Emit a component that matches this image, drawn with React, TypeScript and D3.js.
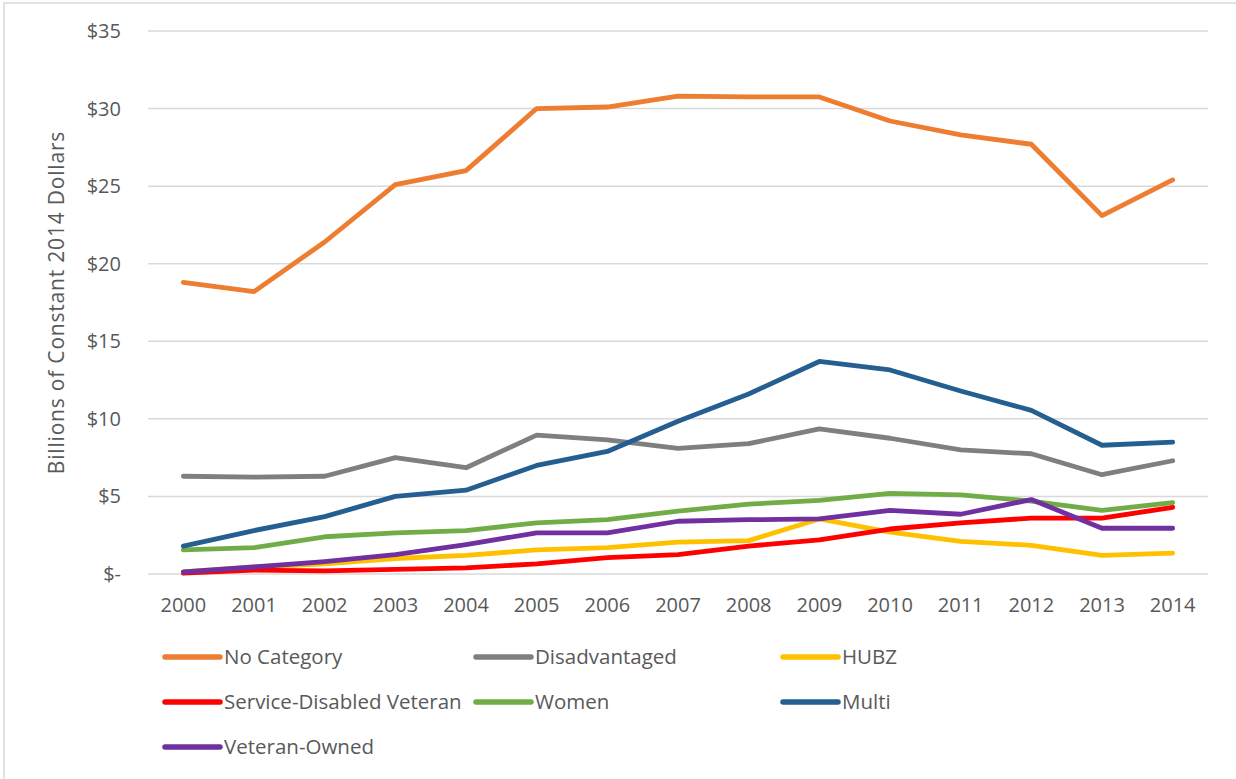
import React from "react";
import * as d3 from "d3";

const years = ["2000","2001","2002","2003","2004","2005","2006","2007","2008","2009","2010","2011","2012","2013","2014"];
const yTicks = [0, 5, 10, 15, 20, 25, 30, 35];

const noCategory = [18.8, 18.2, 21.4, 25.1, 26.0, 30.0, 30.1, 30.8, 30.75, 30.75, 29.2, 28.3, 27.7, 23.1, 25.4];
const disadvantaged = [6.3, 6.25, 6.3, 7.5, 6.85, 8.95, 8.65, 8.1, 8.4, 9.35, 8.75, 8.0, 7.75, 6.4, 7.3];
const hubz = [0.13, 0.45, 0.65, 1.0, 1.2, 1.55, 1.7, 2.05, 2.15, 3.55, 2.7, 2.1, 1.85, 1.2, 1.35];
const serviceDisabled = [0.05, 0.25, 0.2, 0.3, 0.4, 0.65, 1.05, 1.25, 1.8, 2.2, 2.9, 3.3, 3.6, 3.6, 4.3];
const women = [1.55, 1.7, 2.4, 2.65, 2.8, 3.3, 3.5, 4.05, 4.5, 4.75, 5.2, 5.1, 4.7, 4.1, 4.6];
const multi = [1.8, 2.8, 3.7, 5.0, 5.4, 7.0, 7.9, 9.85, 11.6, 13.7, 13.15, 11.8, 10.55, 8.3, 8.5];
const veteranOwned = [0.13, 0.45, 0.8, 1.25, 1.9, 2.65, 2.65, 3.4, 3.5, 3.55, 4.1, 3.85, 4.8, 2.95, 2.95];

const seriesNames = ["No Category", "Disadvantaged", "HUBZ", "Service-Disabled Veteran", "Women", "Multi", "Veteran-Owned"];
const seriesValues = [noCategory, disadvantaged, hubz, serviceDisabled, women, multi, veteranOwned];
const seriesColors = ["#ED7D31", "#7F7F7F", "#FFC000", "#FF0000", "#70AD47", "#255E91", "#7030A0"];

const W = 1236;
const H = 779;
const FONT = "'Open Sans', sans-serif";
const TEXT = "#595959";

export default function App() {
  const x = d3.scaleBand<string>().domain(years).range([148, 1208]);
  const y = d3.scaleLinear().domain([0, 35]).range([574, 31]);
  const cx = (yr: string) => (x(yr) as number) + x.bandwidth() / 2;
  const line = d3
    .line<number>()
    .x((_, i) => cx(years[i]))
    .y((v) => y(v));

  const legendCols = [165, 476, 783];
  const legendRows = [657, 702, 747];

  return (
    <svg
      width={W}
      height={H}
      style={{ position: "absolute", left: 0, top: 0, background: "#fff" }}
      fontFamily={FONT}
    >
      <rect x={0} y={0} width={W} height={H} fill="#fff" />
      <rect x={4} y={3} width={W + 20} height={H + 20} fill="none" stroke="#d9d9d9" strokeWidth={1.5} />
      {yTicks.map((t) => (
        <g key={t}>
          <line x1={148} x2={1208} y1={y(t)} y2={y(t)} stroke="#d9d9d9" strokeWidth={1.5} />
          <text x={121} y={y(t)} dy="0.35em" textAnchor="end" fontSize={20} fill={TEXT}>
            {t === 0 ? "$-" : `$${t}`}
          </text>
        </g>
      ))}
      {years.map((yr) => (
        <text key={yr} x={cx(yr)} y={605} dy="0.35em" textAnchor="middle" fontSize={20} fill={TEXT}>
          {yr}
        </text>
      ))}
      <text
        transform={`translate(57,${(y(0) + y(35)) / 2}) rotate(-90)`}
        textAnchor="middle"
        dy="0.35em"
        fontSize={21}
        letterSpacing={0.8}
        fill={TEXT}
      >
        Billions of Constant 2014 Dollars
      </text>
      {seriesValues.map((vals, i) => (
        <path
          key={seriesNames[i]}
          d={line(vals) || ""}
          fill="none"
          stroke={seriesColors[i]}
          strokeWidth={4.8}
          strokeLinejoin="round"
          strokeLinecap="round"
        />
      ))}
      {seriesNames.map((name, i) => {
        const lx = legendCols[i % 3];
        const ly = legendRows[Math.floor(i / 3)];
        return (
          <g key={name}>
            <line x1={lx} x2={lx + 55} y1={ly} y2={ly} stroke={seriesColors[i]} strokeWidth={5.5} strokeLinecap="round" />
            <text x={lx + 59} y={ly} dy="0.35em" fontSize={20.5} fill={TEXT}>
              {name}
            </text>
          </g>
        );
      })}
    </svg>
  );
}
